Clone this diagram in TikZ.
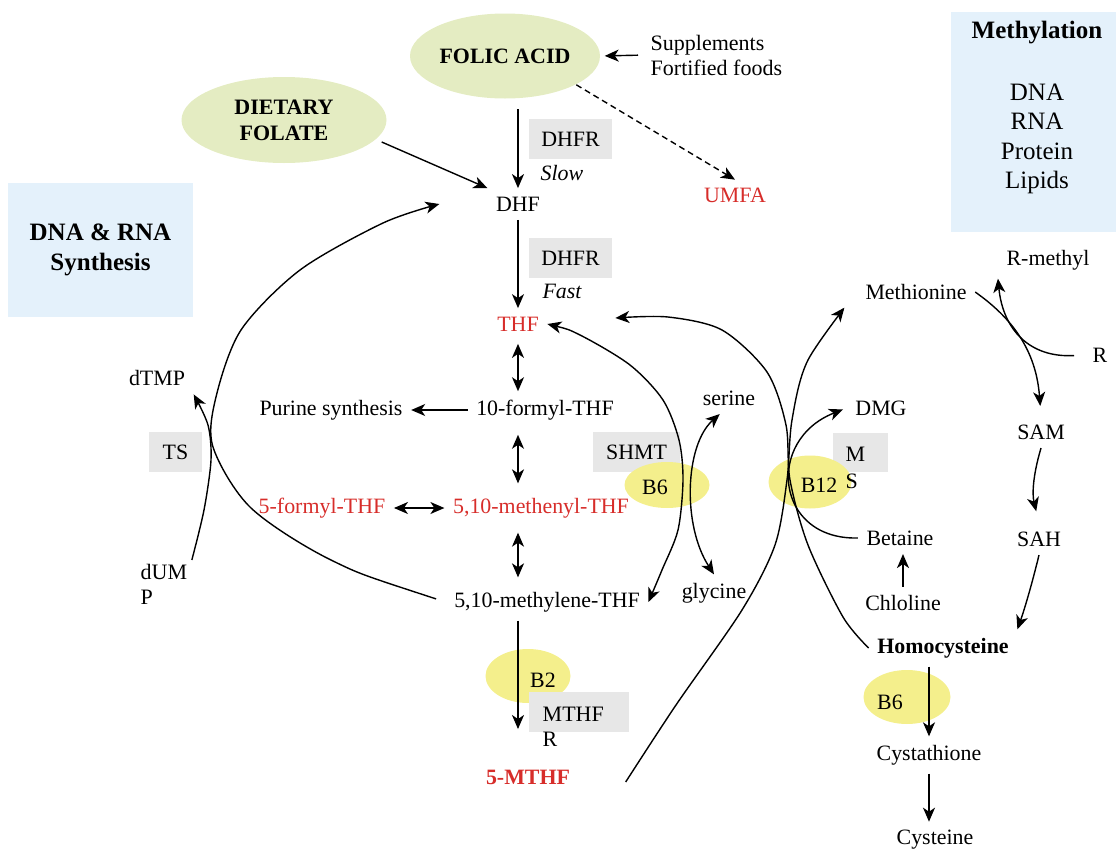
\documentclass[tikz,border=0pt,11pt]{standalone}
\usepackage{fontspec}
\setmainfont{Liberation Serif}
\usetikzlibrary{arrows.meta}
\usetikzlibrary{shapes.geometric}
\usetikzlibrary{positioning}
\definecolor{foodgreen}{RGB}{228,236,194}
\definecolor{vityellow}{RGB}{244,239,140}
\definecolor{enzgray}{RGB}{231,231,231}
\definecolor{topicblue}{RGB}{228,241,251}
\definecolor{folred}{RGB}{215,45,42}
\tikzset{source/.style = {ellipse, fill = foodgreen, inner sep = 0pt, align = center, font = \bfseries},
         topic/.style = {rectangle, fill = topicblue, align = center, font = \fontsize{12.5}{15}\selectfont\bfseries},
         enzyme/.style = {rectangle, fill = enzgray, inner sep = 0pt, minimum height = 20pt},
         vitamin/.style = {ellipse, fill = vityellow, inner sep = 0pt},
         metab/.style = {inner sep = 4pt},
         redmetab/.style = {metab, text = folred}}

\begin{document}
\begin{tikzpicture}[x = 0.5pt, y = -0.5pt, line width = 0.7pt,
                    >= {Stealth[length = 7pt, width = 6pt, inset = 2pt]}]
      \useasboundingbox (0, 0) rectangle (1116, 852);

      \fill [topicblue] (951, 12) rectangle (1116, 232);
      \node [font = \fontsize{12.5}{15}\selectfont\bfseries] (methyl) at (1037, 33) {Methylation};
      \node [font = \fontsize{12.5}{14.75}\selectfont, align = center] (targets) at (1037, 139) {DNA\\RNA\\Protein\\Lipids};
      \node [topic, minimum width = 92.5pt, minimum height = 67pt] (dnarna) at (100.5, 250) {DNA \& RNA\\Synthesis};

      \node [source, minimum width = 95pt, minimum height = 42.5pt] (folic) at (505, 56) {FOLIC ACID};
      \node [source, minimum width = 102.5pt, minimum height = 43pt, font = \fontsize{11}{13}\selectfont\bfseries] (dietary) at (284, 120) {DIETARY\\FOLATE};
      \node [anchor = west, align = left, inner sep = 2pt, font = \fontsize{11}{12.5}\selectfont] (supp) at (646, 55) {Supplements\\Fortified foods};

      \node [metab] (dhf) at (518, 204) {DHF};
      \node [enzyme, minimum width = 41.5pt] (dhfr1) at (570.5, 139) {DHFR};
      \node [font = \itshape] (slow) at (562, 173) {Slow};
      \node [enzyme, minimum width = 41.5pt] (dhfr2) at (570.5, 258) {DHFR};
      \node [font = \itshape] (fast) at (562, 291) {Fast};
      \node [text = folred] (umfa) at (735, 195) {UMFA};
      \node [redmetab] (thf) at (518, 324) {THF};
      \node [metab] (formyl10) at (545, 410) {10-formyl-THF};
      \node [metab] (purine) at (331, 410) {Purine synthesis};
      \node [redmetab] (methenyl) at (541, 508) {5,10-methenyl-THF};
      \node [redmetab] (formyl5) at (322, 508) {5-formyl-THF};
      \node [metab] (methylene) at (547, 602) {5,10-methylene-THF};
      \node [redmetab, font = \bfseries] (mthf) at (528, 777) {5-MTHF};

      \node [metab] (dtmp) at (157, 378) {dTMP};
      \node [metab, align = left, anchor = north west, inner sep = 2pt, font = \fontsize{11}{12.5}\selectfont] (dump) at (136, 560) {dUM\\P};
      \node [enzyme, minimum width = 26.5pt] (ts) at (175.5, 452) {TS};

      \node [enzyme, minimum width = 43.5pt] (shmt) at (636.5, 452) {SHMT};
      \node [vitamin, minimum width = 42.5pt, minimum height = 23pt, label = {[xshift = -6pt, yshift = -1pt]center:B6}] (b6shmt) at (667, 485) {};
      \node [metab] (serine) at (729, 398) {serine};
      \node [metab] (glycine) at (714, 593) {glycine};

      \node [enzyme, minimum width = 27.5pt, minimum height = 19.5pt] (ms) at (860.5, 452.5) {};
      \node [vitamin, minimum width = 41.5pt, minimum height = 26.5pt, label = {[xshift = 4.5pt, yshift = -1.5pt]center:B12}] (b12) at (810, 482) {};
      \node [align = left, anchor = north west, inner sep = 0pt, font = \fontsize{11}{13.5}\selectfont] (mstext) at (845, 446) {M\\S};

      \node [metab] (methionine) at (916, 292) {Methionine};
      \node [metab] (rmethyl) at (1048, 260) {R-methyl};
      \node [metab] (rgroup) at (1100, 355) {R};
      \node [metab] (dmg) at (881, 408) {DMG};
      \node [metab] (sam) at (1041, 432) {SAM};
      \node [metab] (betaine) at (900, 538) {Betaine};
      \node [metab] (sah) at (1039, 539) {SAH};
      \node [metab] (chloline) at (903, 603) {Chloline};
      \node [metab, font = \bfseries] (homocys) at (943, 648) {Homocysteine};
      \node [vitamin, minimum width = 43.5pt, minimum height = 27pt, label = {[xshift = -8.5pt, yshift = -2.5pt]center:B6}] (b6cbs) at (907, 697) {};
      \node [metab] (cystath) at (929, 755) {Cystathione};
      \node [metab] (cysteine) at (935, 840) {Cysteine};

      \node [vitamin, minimum width = 42.5pt, minimum height = 27pt, label = {[xshift = 7.5pt, yshift = -2pt]center:B2}] (b2) at (528, 676) {};
      \node [enzyme, minimum width = 50pt] (mthfr) at (579, 712) {};
      \node [align = left, anchor = north west, inner sep = 0pt, font = \fontsize{11}{12.5}\selectfont] (mthfrtext) at (542, 706) {MTHF\\R};

      \coordinate [left = 24pt of dhf.west] (dhfin);
      \coordinate [above right = 3pt and 34pt of thf.east] (thfin);
      \coordinate [below right = 2.5pt and 23.5pt of mthf.east] (mthfout);

      \draw [->, shorten <= 5pt] (folic.south -| dhf.north) -- (dhf.north);
      \draw [->, shorten <= 3pt] (dietary.-12) -- (dhf.north west);
      \draw [->, shorten <= 4pt, shorten >= 2pt] (supp.west) -- (folic.east);
      \draw [->, dash pattern = on 3pt off 2pt] (folic.-22) -- (umfa.north);
      \draw [->] (dhf) -- (thf);
      \draw [<->, shorten <= 2pt] (thf.south) -- (thf.south |- formyl10.north);
      \draw [<->, shorten <= 3pt, shorten >= 3pt] (thf.south |- formyl10.south) -- (thf.south |- methenyl.north);
      \draw [<->, shorten <= 3pt, shorten >= 3pt] (thf.south |- methenyl.south) -- (thf.south |- methylene.north);
      \draw [->, shorten >= 16pt] (thf.south |- methylene.south) -- (thf.south |- mthf.north);
      \draw [->] (formyl10.west) -- (purine.east);
      \draw [<->] (formyl5.east) -- (methenyl.west);
      \draw [->] (chloline.north) -- (chloline.north |- betaine.south);
      \draw [->] (cystath.north |- homocys.south) -- (cystath.north);
      \draw [->] (cystath.south) -- (cystath.south |- cysteine.north);

      \draw [->, shorten <= 5pt] plot [smooth] coordinates {(methylene.west) (333, 561) (251, 508) (213, 447) (216, 397) (241, 330) (300, 270) (383, 223) (dhfin)};
      \draw [->] plot [smooth] coordinates {(dump.north east) (204, 510) (211, 460) (208, 425) (dtmp.south east)};
      \draw [<->] plot [smooth] coordinates {(thf.east) (580, 335) (630, 365) (663, 400) (679, 440) (683, 480) (678, 530) (662, 570) (methylene.east)};
      \draw [<->] (serine.-120) .. controls (685, 445) and (682, 525) .. (glycine.north);
      \draw [->] plot [smooth] coordinates {(homocys.west) (843, 617) (808, 545) (790, 480) (786, 425) (767, 372) (722, 330) (668, 317) (thfin)};
      \draw [->, shorten >= 10pt] plot [smooth] coordinates {(mthfout) (676, 705) (742, 610) (775, 545) (787, 480) (792, 420) (808, 360) (methionine.west)};
      \draw [->, shorten >= 2pt] (betaine.west) .. controls (775, 540) and (765, 440) .. (dmg.west);
      \draw [->, shorten >= 5pt] (methionine.east) .. controls (1012, 318) and (1036, 350) .. (sam.north);
      \draw [->, shorten <= 5pt] (rgroup.west) .. controls (1030, 358) and (1003, 330) .. (rmethyl.south west);
      \draw [->, shorten >= 6pt] (sam.south) to [bend right = 15] (sah.north);
      \draw [->] (sah.south) .. controls (1028, 600) and (1020, 622) .. (homocys.north east);
\end{tikzpicture}
\end{document}
